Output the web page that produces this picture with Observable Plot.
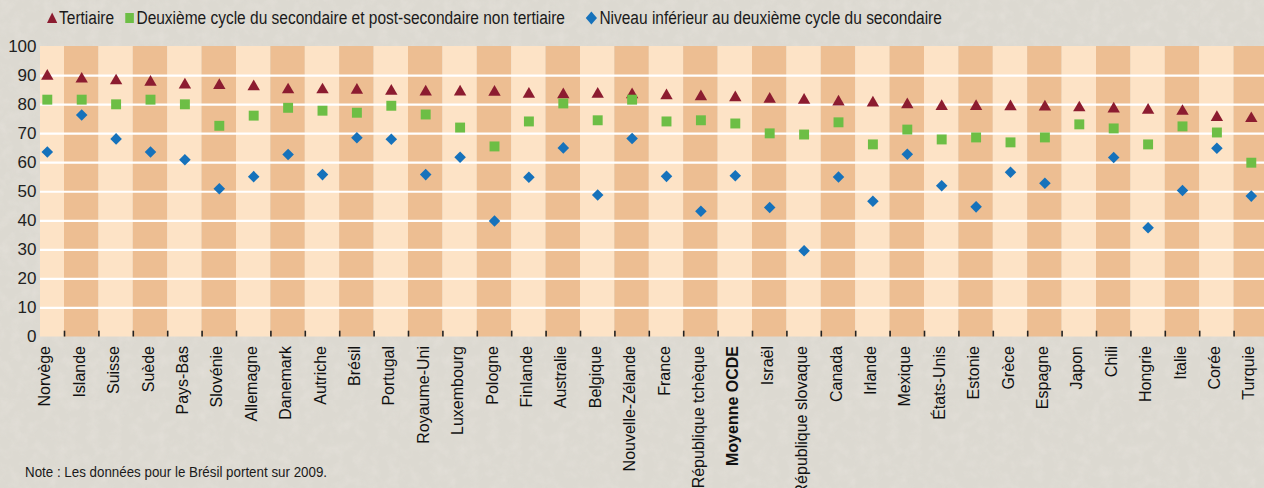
<!DOCTYPE html>
<html>
<head>
<meta charset="utf-8">
<script src="https://cdn.jsdelivr.net/npm/d3@7"></script>
<script src="https://cdn.jsdelivr.net/npm/@observablehq/plot@0.6"></script>
<style>
html, body { margin: 0; padding: 0; width: 1264px; height: 488px; overflow: hidden; }
body {
  position: relative;
  background-color: #dcd9d1;
  background-image: url("data:image/svg+xml;utf8,<svg xmlns='http://www.w3.org/2000/svg' width='400' height='400'><filter id='n'><feTurbulence type='fractalNoise' baseFrequency='0.09' numOctaves='3' seed='4'/><feColorMatrix values='0 0 0 0 0.78  0 0 0 0 0.75  0 0 0 0 0.70  0 0 0 -1.3 0.75'/></filter><rect width='100%' height='100%' filter='url(%23n)'/></svg>");
  font-family: "Liberation Sans", Arial, sans-serif;
}
#legend {
  position: absolute; left: 47px; top: 7px; height: 22px;
  display: flex; align-items: center; white-space: nowrap;
  font-family: "Liberation Sans", Arial, sans-serif;
  font-size: 18px; color: #1a1a1a;
  transform: scaleX(0.86); transform-origin: 0 50%;
}
#legend .item { display: flex; align-items: center; margin-right: 12px; }
#legend svg { margin-right: 2px; }
#chart { position: absolute; left: 0; top: 30px; }
#note {
  position: absolute; left: 25px; top: 463px; white-space: nowrap;
  font-family: "Liberation Sans", Arial, sans-serif;
  font-size: 15px; color: #1a1a1a;
  transform: scaleX(0.89); transform-origin: 0 50%;
}
</style>
</head>
<body>
<div id="legend"></div>
<div id="chart"></div>
<div id="note">Note : Les données pour le Brésil portent sur 2009.</div>
<script>
// ---- Data ----
const countries = ["Norvège", "Islande", "Suisse", "Suède", "Pays-Bas", "Slovénie", "Allemagne", "Danemark", "Autriche", "Brésil", "Portugal", "Royaume-Uni", "Luxembourg", "Pologne", "Finlande", "Australie", "Belgique", "Nouvelle-Zélande", "France", "République tchèque", "Moyenne OCDE", "Israël", "République slovaque", "Canada", "Irlande", "Mexique", "États-Unis", "Estonie", "Grèce", "Espagne", "Japon", "Chili", "Hongrie", "Italie", "Corée", "Turquie"];
const tertiaire = [89.8, 88.8, 88.2, 87.7, 86.8, 86.6, 86.2, 85.1, 85.1, 85.0, 84.6, 84.4, 84.4, 84.3, 83.6, 83.4, 83.6, 83.4, 83.1, 82.7, 82.4, 81.9, 81.5, 80.9, 80.6, 80.0, 79.4, 79.4, 79.3, 79.2, 78.9, 78.5, 78.1, 77.7, 75.6, 75.2];
const secondaire = [81.7, 81.7, 80.1, 81.7, 80.1, 72.7, 76.2, 78.9, 77.9, 77.2, 79.6, 76.6, 72.1, 65.6, 74.2, 80.4, 74.6, 81.7, 74.2, 74.6, 73.5, 70.1, 69.7, 73.9, 66.3, 71.4, 68.0, 68.7, 67.0, 68.7, 73.2, 71.8, 66.3, 72.5, 70.4, 60.0];
const inferieur = [63.7, 76.4, 68.2, 63.7, 61.0, 51.0, 55.2, 62.8, 55.9, 68.6, 68.1, 55.9, 61.9, 39.9, 55.0, 65.1, 48.9, 68.3, 55.3, 43.3, 55.5, 44.6, 29.7, 55.1, 46.7, 62.9, 52.1, 44.8, 56.7, 52.9, null, 61.8, 37.6, 50.4, 65.0, 48.5];
const yTicks = [0, 10, 20, 30, 40, 50, 60, 70, 80, 90, 100];
const gridValues = [10, 20, 30, 40, 50, 60, 70, 80, 90];
const seriesNames = ["Tertiaire", "Deuxième cycle du secondaire et post-secondaire non tertiaire", "Niveau inférieur au deuxième cycle du secondaire"];
const highlight = "Moyenne OCDE";

// ---- Styles ----
const cRed = "#8c1c30", cGreen = "#6dbe45", cBlue = "#1672bb";
const bandLight = "#fde3c6", bandDark = "#edbe92";

const data = countries.map((c, i) => ({c, i, t: tertiaire[i], s: secondaire[i], n: inferieur[i]}));

const x0 = 29.6, x1 = 1268;
const bw = (x1 - x0) / countries.length;

const chart = Plot.plot({
  width: 1264, height: 458,
  marginTop: 16, marginBottom: 151.5, marginLeft: 40, marginRight: 0,
  style: {background: "transparent", fontFamily: "'Liberation Sans', Arial, sans-serif", overflow: "visible"},
  x: {type: "band", domain: countries, range: [x0, x1], padding: 0, round: false, axis: null},
  y: {domain: [0, 100], axis: null},
  color: {type: "identity"},
  marks: [
    Plot.barY(data, {x: "c", y1: 0, y2: 100, fill: d => d.i % 2 ? bandDark : bandLight, insetTop: -2, insetBottom: -2, clip: true}),
    Plot.ruleY(gridValues, {stroke: "white", strokeWidth: 2.2}),
    Plot.ruleX(countries.slice(1), {x: d => d, dx: -bw / 2, y1: 0, y2: 2, stroke: "#222", strokeWidth: 1.6}),
    Plot.axisY({ticks: yTicks, tickSize: 0, tickPadding: 4, fontSize: 17, fill: "#222", label: null}),
    Plot.dot(data, {x: "c", y: "t", symbol: "triangle", r: 4.6, fill: cRed, stroke: "none"}),
    Plot.dot(data, {x: "c", y: "s", symbol: "square", r: 5.6, fill: cGreen, stroke: "none"}),
    Plot.dot(data.filter(d => d.n != null), {x: "c", y: "n", symbol: "diamond2", r: 5.2, fill: cBlue, stroke: "none"}),
    Plot.text(countries.filter(c => c !== highlight), {x: d => d, text: d => d, frameAnchor: "bottom", rotate: -90, textAnchor: "end", dy: 9, dx: 3, fontSize: 16, fill: "#111"}),
    Plot.text(countries.filter(c => c === highlight), {x: d => d, text: d => d, frameAnchor: "bottom", rotate: -90, textAnchor: "end", dy: 9, dx: 3, fontSize: 16, fontWeight: "bold", fill: "#111"})
  ]
});
document.getElementById("chart").append(chart);

// ---- Legend ----
const legend = document.getElementById("legend");
const sym = [
  `<svg width="12" height="12" viewBox="-6 -6 12 12"><path d="M0,-5.5L6,5L-6,5Z" fill="${cRed}"/></svg>`,
  `<svg width="12" height="12" viewBox="-6 -6 12 12"><rect x="-5" y="-5" width="10" height="10" fill="${cGreen}"/></svg>`,
  `<svg width="14" height="14" viewBox="-7 -7 14 14"><path d="M0,-6.5L6.5,0L0,6.5L-6.5,0Z" fill="${cBlue}"/></svg>`
];
seriesNames.forEach((name, k) => {
  const it = document.createElement("span");
  it.className = "item";
  if (k === 2) it.style.marginLeft = "12px";
  it.innerHTML = sym[k] + `<span>${name}</span>`;
  legend.append(it);
});
</script>
</body>
</html>
